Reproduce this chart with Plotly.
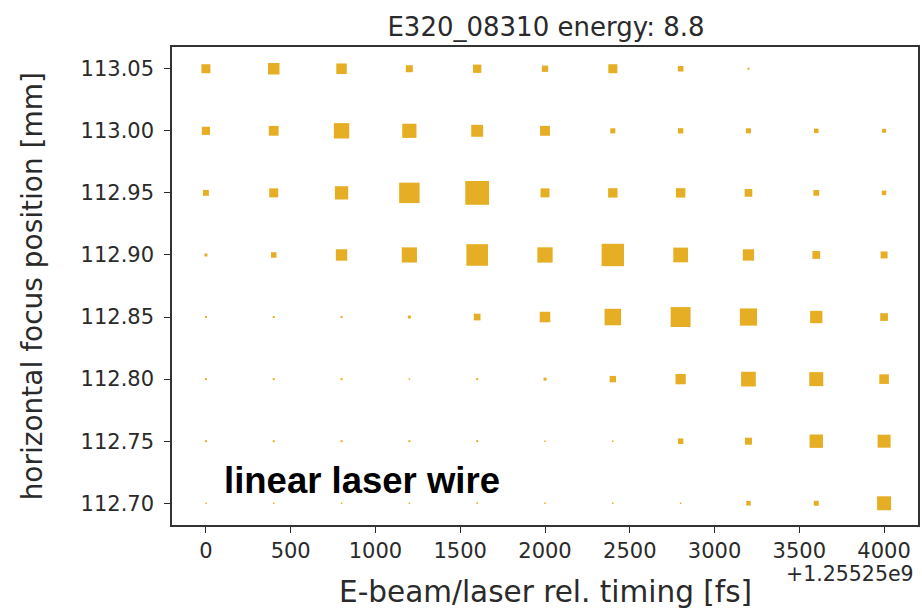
import plotly.graph_objects as go

# Scan axes: relative e-beam/laser timing (fs, offset from base) and focus position (mm)
timing_base = 1.25525e9
timing_offsets = [0, 400, 800, 1200, 1600, 2000, 2400, 2800, 3200, 3600, 4000]
focus_positions = [113.05, 113.00, 112.95, 112.90, 112.85, 112.80, 112.75, 112.70]

# Signal per scan point (a.u.), one row per focus position, one column per timing step
signal = [
    [9.0, 11.5, 10.5, 7.0, 8.3, 6.3, 9.0, 5.6, 2.0, 0.0, 0.0],
    [8.2, 9.8, 15.4, 14.2, 11.9, 9.9, 5.1, 5.3, 5.0, 4.5, 4.0],
    [5.9, 9.0, 13.3, 20.4, 23.8, 9.0, 9.4, 9.4, 7.7, 5.8, 4.5],
    [3.0, 5.5, 11.4, 15.2, 21.6, 15.3, 22.4, 14.7, 11.3, 7.8, 7.0],
    [2.0, 2.0, 2.0, 3.0, 6.7, 10.5, 16.5, 19.9, 17.2, 12.3, 7.7],
    [2.0, 2.0, 2.0, 1.5, 2.0, 3.0, 6.4, 10.3, 14.7, 14.0, 9.6],
    [2.0, 2.0, 2.0, 2.0, 2.0, 1.5, 1.5, 5.5, 7.0, 13.4, 13.0],
    [1.5, 1.5, 1.5, 1.5, 1.5, 1.5, 1.5, 1.5, 4.5, 5.0, 14.0],
]

xs, ys, ss = [], [], []
for yi, row in zip(focus_positions, signal):
    for xi, s in zip(timing_offsets, row):
        xs.append(xi)
        ys.append(yi)
        ss.append(s)

MARK = "#E6AE24"
TXT = "#2a2a2a"
FONT = "DejaVu Sans"

fig = go.Figure(
    go.Scatter(
        x=xs,
        y=ys,
        mode="markers",
        marker=dict(
            symbol="square",
            size=ss,
            sizemode="diameter",
            sizeref=1,
            sizemin=0,
            color=MARK,
            opacity=1,
            line=dict(width=0),
        ),
        hoverinfo="x+y",
    )
)

fig.update_layout(
    width=922,
    height=611,
    margin=dict(l=172, r=2, t=47, b=86),
    paper_bgcolor="white",
    plot_bgcolor="white",
    showlegend=False,
    font=dict(family=FONT, color=TXT, size=21),
    title=dict(
        text="E320_08310 energy: 8.8",
        x=(172 + 920) / 2 / 922,
        xanchor="center",
        y=1 - 27 / 611,
        yanchor="middle",
        font=dict(family=FONT, size=26, color=TXT),
    ),
)

fig.update_xaxes(
    range=[-200, 4200],
    tickvals=[0, 500, 1000, 1500, 2000, 2500, 3000, 3500, 4000],
    ticks="outside",
    ticklen=6,
    tickwidth=1.2,
    tickcolor=TXT,
    showgrid=False,
    zeroline=False,
    showline=True,
    mirror=True,
    linecolor="#333333",
    linewidth=1.5,
    tickfont=dict(family=FONT, size=21, color=TXT),
    ticklabelstandoff=0,
)

fig.update_yaxes(
    range=[112.6825, 113.0675],
    tickvals=focus_positions,
    tickformat=".2f",
    ticks="outside",
    ticklen=6,
    tickwidth=1.2,
    tickcolor=TXT,
    showgrid=False,
    zeroline=False,
    showline=True,
    mirror=True,
    linecolor="#333333",
    linewidth=1.5,
    tickfont=dict(family=FONT, size=21, color=TXT),
    ticklabelstandoff=6,
)

# Axis labels, offset text and the in-plot tag
fig.add_annotation(
    text="E-beam/laser rel. timing [fs]",
    xref="paper", yref="paper",
    x=0.5, y=-(592 - 525) / 478,
    xanchor="center", yanchor="middle",
    showarrow=False,
    font=dict(family=FONT, size=29.5, color=TXT),
)
fig.add_annotation(
    text="+%.5fe9" % (timing_base / 1e9),
    xref="paper", yref="paper",
    x=1 + (918 - 920) / 748, y=-(574 - 525) / 478,
    xanchor="right", yanchor="middle",
    showarrow=False,
    font=dict(family=FONT, size=20.5, color=TXT),
)
fig.add_annotation(
    text="horizontal focus position [mm]",
    xref="paper", yref="paper",
    x=-(172 - 32) / 748, y=0.5,
    xanchor="center", yanchor="middle",
    textangle=-90,
    showarrow=False,
    font=dict(family=FONT, size=28, color=TXT),
)
fig.add_annotation(
    text="<b>linear laser wire</b>",
    xref="paper", yref="paper",
    x=(222 - 172) / 748, y=(525 - 480) / 478,
    xanchor="left", yanchor="middle",
    showarrow=False,
    font=dict(family="Liberation Sans", size=36.5, color="black"),
)

fig.write_html("out.html")
